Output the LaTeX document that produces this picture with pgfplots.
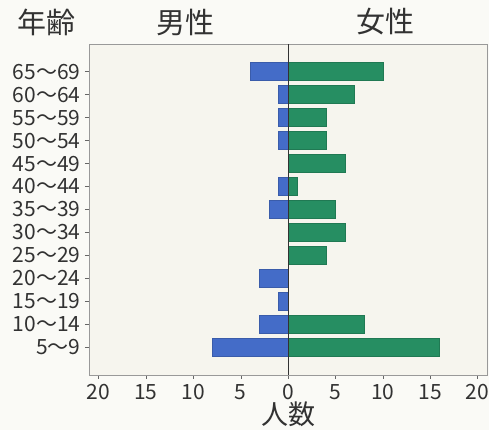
\documentclass[border=0pt]{standalone}
\usepackage{pgfplots}
\pgfplotsset{compat=1.18}
\usepackage{fontspec}
\setmainfont{Noto Sans CJK JP}
\definecolor{paper}{RGB}{250,250,246}
\definecolor{plotbg}{RGB}{246,245,238}
\definecolor{mblue}{RGB}{68,108,200}
\definecolor{fgreen}{RGB}{38,142,98}
\definecolor{ink}{RGB}{50,50,50}
\begin{document}
\begin{tikzpicture}
\fill[paper] (-89pt,-55pt) rectangle (400pt,375pt);
\path[use as bounding box] (-89pt,-55pt) rectangle (400pt,375pt);
\begin{axis}[
  at={(0,0)}, anchor=south west,
  scale only axis, width=398pt, height=331pt,
  xmin=-21, xmax=21, ymin=-1.2, ymax=13.2,
  axis background/.style={fill=plotbg},
  axis line style={gray!80},
  xbar, bar width=18pt,
  xtick={-20,-15,...,20},
  xticklabel={\pgfmathparse{abs(\tick)}\pgfmathprintnumber{\pgfmathresult}},
  ytick={0,...,12},
  yticklabels={5～9,10～14,15～19,20～24,25～29,30～34,35～39,40～44,45～49,50～54,55～59,60～64,65～69},
  tick align=outside, major tick length=4pt,
  tick style={gray!80!black},
  xtick pos=bottom, ytick pos=left,
  ticklabel style={font=\fontsize{21}{21}\selectfont, text=ink},
  /pgf/number format/assume math mode=true,
  x tick label style={yshift=-2pt},
  y tick label style={xshift=-1pt},
]
\addplot[fill=mblue, draw=mblue!85!black, bar shift=0pt] coordinates {
  (-8,0) (-3,1) (-1,2) (-3,3) (0,4) (0,5) (-2,6) (-1,7) (0,8) (-1,9) (-1,10) (-1,11) (-4,12)};
\addplot[fill=fgreen, draw=fgreen!85!black, bar shift=0pt] coordinates {
  (16,0) (8,1) (0,2) (0,3) (4,4) (6,5) (5,6) (1,7) (6,8) (4,9) (4,10) (7,11) (10,12)};
\draw[ink] (axis cs:0,-1.2) -- (axis cs:0,13.2);
\end{axis}
\node[font=\fontsize{29}{29}\selectfont, text=ink] at (-42pt,353pt) {年齢};
\node[font=\fontsize{29}{29}\selectfont, text=ink] at (96pt,353pt) {男性};
\node[font=\fontsize{29}{29}\selectfont, text=ink] at (296pt,353pt) {女性};
\node[font=\fontsize{27}{27}\selectfont, text=ink, inner sep=0pt] at (199pt,-39pt) {人数};
\end{tikzpicture}
\end{document}
